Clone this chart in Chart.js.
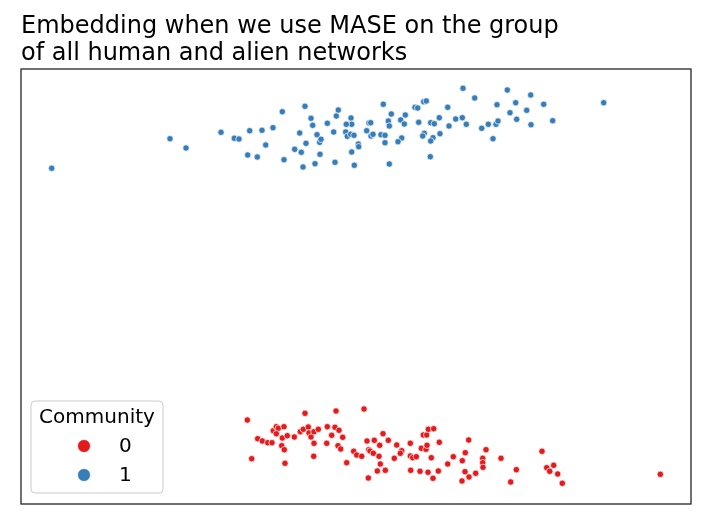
<!DOCTYPE html>
<html><head><meta charset="utf-8">
<script src="https://cdn.jsdelivr.net/npm/chart.js@4.4.0/dist/chart.umd.min.js"></script>
<style>html,body{margin:0;padding:0;background:#fff;}#wrap{width:705px;height:525px;}</style>
</head><body><div id="wrap"><canvas id="c" width="705" height="525"></canvas></div>
<script>
const titleLines = ["Embedding when we use MASE on the group", "of all human and alien networks"];
const legendTitle = "Community";
const communities = ["0", "1"];
const colors = ["#e41a1c", "#377eb8"];

// Community 0 (red) embedding coordinates
const x0 = [247.3,251.7,257.7,262.3,267.7,272,273.3,276.3,278.3,276.3,284,282.3,287.3,281.7,284.3,285,294.3,300.3,303.3,305,308.3,309,311,314,318.3,314,313.7,327.3,331.7,326.7,335,339,336,342.7,338,340.7,346.7,353.7,356.7,361.7,364,367,368.7,370,373.3,374.3,379.7,383,379,380.3,377.3,385.3,368.3,388.3,394.3,396.7,401.7,400.3,410.3,410.3,412.7,416.3,410.7,420,421.3,426,427,423.3,426.7,428.3,433.7,428,431.3,433,438.3,439.3,447.7,453.3,468.7,465.3,462.3,465,469,462,475.7,482.7,482.7,483,486,501,516.3,510.7,542,546.7,549.7,553.7,557.7,562.3,660.3];
const y0 = [420,458.7,438.7,441,442.7,442.7,430.7,426.7,428.3,433.7,426.7,438,435.7,445.7,449.7,463.3,437,431.7,429.3,413.3,427,433,437,431.7,429.3,443.3,456.3,426.7,435.3,443.3,427.3,430.3,411,437.3,445.7,449,462.7,451.3,455,456.3,409,441,449.7,451,453.3,440.3,445.3,433.7,456.3,464,471,470.3,478,440.3,458.3,445,450.7,453.3,443.3,456,457.7,456.7,470.3,471.3,448.3,449.3,445.3,435,435,429.3,428.7,472.3,457.7,478.3,471,442.3,464,456.7,440,452.7,460.7,471.7,477,481,473.3,458.3,462.7,467.3,449.7,458.3,469.7,482,451.3,467.7,471.3,465.3,474,483.3,474.3];

// Community 1 (blue) embedding coordinates
const x1 = [51.7,170,186,221,234.3,239,249.7,262,273,282.3,265.7,247.7,257.3,284,305,311,312.7,299.7,317,306,319.7,321,294.7,301.3,320,303,315,327.3,333.7,336.3,338.3,335,351,351.7,346.3,345.7,347.3,350.7,354,358.3,358.7,351.7,354.3,366.7,369,370.7,371,373,381,385,383.3,385,389.3,391.3,388.3,389.3,400.7,404.3,405.3,401.7,398,415,417.7,423.7,426.3,418.7,424.3,422.7,433,430.7,430.7,434.3,430.3,439.3,440,447.7,449,455.7,462.3,463,466.3,474.7,481.7,488.3,493,496,498,497,507.3,510,515.7,516.7,526.7,530.7,531,543.7,552.7,603.7];
const y1 = [168.3,138.7,148,132.3,138.3,139,130.7,130.3,127.7,111.7,145,155,157,159.7,106.3,118.3,125.3,133,134.7,143.3,142.3,139.3,149.3,152.3,154.3,167,163.7,123.3,132,116,110,162.3,118,124.3,124.3,132,136.3,134.3,135.3,144,146.7,152,165.3,130.7,123,122.7,136,134.3,134.7,135.3,104.3,142.7,164,114,121,126,120,124,115,138,141.7,107.3,108,101.7,101,122.3,133.3,136,137.7,141,122.7,123.7,156.7,117.7,133.7,107.3,126,119,117.7,88.3,124.3,98,128.3,124.3,138.7,124.3,121,104.7,90,112.7,102.7,119.3,110.3,95,124.7,104.3,120.7,102.7];

const xRange = [21, 691];
const yRange = [69, 504];

function pts(xs, ys){ return xs.map((v,i)=>({x:v, y:ys[i]})); }

const framePlugin = {
  id: 'frame',
  afterDraw(chart){
    const ctx = chart.ctx, a = chart.chartArea;
    ctx.save();
    ctx.strokeStyle = '#262626';
    ctx.lineWidth = 1.3;
    ctx.strokeRect(a.left, a.top, a.right - a.left, a.bottom - a.top);
    ctx.fillStyle = '#000';
    ctx.font = '24px "DejaVu Sans"';
    ctx.textBaseline = 'alphabetic';
    ctx.textAlign = 'left';
    ctx.fillText(titleLines[0], a.left, 33);
    ctx.fillText(titleLines[1], a.left, 60);
    const bx = 31, by = 401, bw = 132, bh = 92, r = 4;
    ctx.beginPath();
    ctx.moveTo(bx + r, by);
    ctx.arcTo(bx + bw, by, bx + bw, by + bh, r);
    ctx.arcTo(bx + bw, by + bh, bx, by + bh, r);
    ctx.arcTo(bx, by + bh, bx, by, r);
    ctx.arcTo(bx, by, bx + bw, by, r);
    ctx.closePath();
    ctx.fillStyle = 'rgba(255,255,255,0.8)';
    ctx.fill();
    ctx.strokeStyle = '#cccccc';
    ctx.lineWidth = 1;
    ctx.stroke();
    ctx.fillStyle = '#000';
    ctx.font = '20px "DejaVu Sans"';
    ctx.textAlign = 'center';
    ctx.textBaseline = 'middle';
    ctx.fillText(legendTitle, bx + bw/2, 418);
    const rows = [446, 475];
    communities.forEach((lab, i) => {
      ctx.beginPath();
      ctx.arc(84, rows[i], 6.5, 0, Math.PI*2);
      ctx.fillStyle = colors[i];
      ctx.fill();
      ctx.lineWidth = 0.8;
      ctx.strokeStyle = '#ffffff';
      ctx.stroke();
      ctx.fillStyle = '#000';
      ctx.textAlign = 'left';
      ctx.fillText(lab, 119, rows[i] + 1);
    });
    ctx.restore();
  }
};

new Chart(document.getElementById('c'), {
  type: 'scatter',
  data: {
    datasets: [
      { label: communities[0], data: pts(x0, y0), backgroundColor: colors[0], borderColor: '#ffffff', borderWidth: 0.7, pointRadius: 3.2 },
      { label: communities[1], data: pts(x1, y1), backgroundColor: colors[1], borderColor: '#ffffff', borderWidth: 0.7, pointRadius: 3.2 }
    ]
  },
  options: {
    responsive: false,
    animation: false,
    devicePixelRatio: 1,
    layout: { padding: { left: 21, top: 69, right: 14, bottom: 21 } },
    plugins: { legend: { display: false }, title: { display: false }, tooltip: { enabled: false } },
    scales: {
      x: { type: 'linear', display: false, min: xRange[0], max: xRange[1] },
      y: { type: 'linear', display: false, min: yRange[0], max: yRange[1], reverse: true }
    }
  },
  plugins: [framePlugin]
});
</script>
</body></html>
